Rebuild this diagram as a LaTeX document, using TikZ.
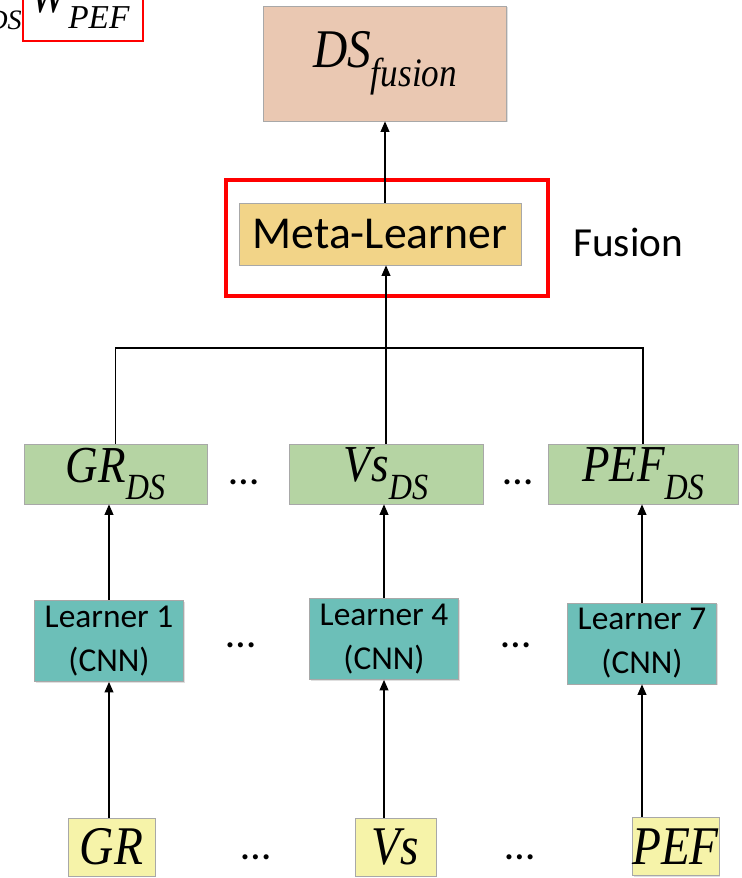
\documentclass[tikz,border=0pt]{standalone}
\usepackage{fontspec}
\setmainfont{Liberation Serif}
\newfontfamily\calibri{Carlito}
\usepackage{tikz}
\usetikzlibrary{arrows.meta,shadows}
\definecolor{peach}{HTML}{EAC8B2}
\definecolor{gold}{HTML}{F2D488}
\definecolor{leaf}{HTML}{B5D4A3}
\definecolor{tealbox}{HTML}{6CBFB8}
\definecolor{lemon}{HTML}{F6F3A9}
\definecolor{edge}{HTML}{A8A8A8}
\definecolor{alert}{HTML}{FF0000}
\newcommand\lowsub[2]{\raisebox{-0.34em}{\fontsize{#1}{#1}\selectfont #2}}
\newcommand\narrow[1]{\scalebox{0.87}[1]{#1}}
\tikzset{
  box/.style={draw=edge, line width=0.4pt, inner sep=0pt,
    drop shadow={opacity=0.25, shadow xshift=0.8pt, shadow yshift=-0.8pt}},
  fusebox/.style={box, fill=peach, minimum width=4.86cm, minimum height=2.30cm,
    font=\itshape\fontsize{31}{34}\selectfont},
  metabox/.style={box, fill=gold, minimum width=5.64cm, minimum height=1.24cm,
    font=\calibri\fontsize{26}{30}\selectfont},
  dsbox/.style={box, fill=leaf, minimum height=1.2cm, font=\itshape\fontsize{29.5}{32}\selectfont},
  learnbox/.style={box, fill=tealbox, minimum width=2.98cm, minimum height=1.62cm,
    align=center, font=\calibri\fontsize{19}{25}\selectfont},
  inbox/.style={box, fill=lemon, minimum height=1.16cm, font=\itshape\fontsize{31}{34}\selectfont},
  dots/.style={font=\calibri\fontsize{24}{24}\selectfont, inner sep=0pt},
  lab/.style={font=\calibri\fontsize{23.5}{28}\selectfont, inner sep=0pt},
  part/.style={font=\itshape, inner sep=0pt},
  link/.style={draw=black, line width=0.85pt},
  arr/.style={link, -{Triangle[length=6pt,width=5pt]}},
  redbox/.style={draw=alert, line width=2.4pt}
}
\begin{document}
\begin{tikzpicture}[x=0.02cm, y=-0.02cm]
  \useasboundingbox (0,0) rectangle (742,878);

  \begin{scope}
    \clip (0,0) rectangle (742,878);
    \draw[draw=alert, line width=1.7pt] (23,-40) rectangle (143,41);
    \node[part, anchor=base east, font=\itshape\fontsize{16}{18}\selectfont] (dsfrag) at (22,30) {DS};
    \node[part, anchor=base west, font=\itshape\fontsize{28}{30}\selectfont] (wfrag) at (30,13) {\narrow{W}};
    \node[part, anchor=base west, font=\itshape\fontsize{19}{20}\selectfont] (peffrag) at (68,29) {PEF};
  \end{scope}

  \node[fusebox] (fusion) at (385,63.5) {\narrow{DS\lowsub{23pt}{fusion}}};
  \node[metabox] (meta) at (380,234) {Meta-Learner};
  \draw[redbox] (226,180) rectangle (548,296);
  \node[lab, anchor=west] (fuselab) at (573,242) {Fusion};

  \node[dsbox, minimum width=3.66cm] (grds) at (115.5,474) {\narrow{GR\lowsub{21pt}{DS}}};
  \node[dsbox, minimum width=3.88cm] (vsds) at (386,474) {\narrow{Vs\lowsub{21pt}{DS}}};
  \node[dsbox, minimum width=3.80cm] (pefds) at (643,474) {\narrow{PEF\lowsub{21pt}{DS}}};

  \node[learnbox] (l1) at (109,641) {Learner 1\\(CNN)};
  \node[learnbox] (l4) at (384,639) {Learner 4\\(CNN)};
  \node[learnbox] (l7) at (642,643.5) {Learner 7\\(CNN)};

  \node[inbox, minimum width=1.74cm] (gr) at (111.5,847) {\narrow{GR}};
  \node[inbox, minimum width=1.62cm] (vs) at (395.5,847) {\narrow{Vs}};
  \node[inbox, minimum width=1.70cm] (pef) at (675.5,846.5) {\narrow{PEF}};

  \foreach \x/\y/\n in {244/482/d1, 518/482/d2, 241/645/d3, 516/645/d4, 256/857/d5, 520/857/d6}
    \node[dots] (\n) at (\x,\y) {\textellipsis};

  \coordinate (bar) at (385,348);
  \draw[link] (grds.north) |- (bar) -| (pefds.north);
  \draw[arr] (vsds.north) -- (vsds.north |- meta.south);
  \draw[arr] (meta.north -| fusion.south) -- (fusion.south);
  \foreach \a/\b in {l1/grds, l4/vsds, l7/pefds}
    \draw[arr] (\a.north) -- (\a.north |- \b.south);
  \foreach \a/\b in {gr/l1, vs/l4, pef/l7}
    \draw[arr] (\b.south |- \a.north) -- (\b.south);
\end{tikzpicture}
\end{document}
